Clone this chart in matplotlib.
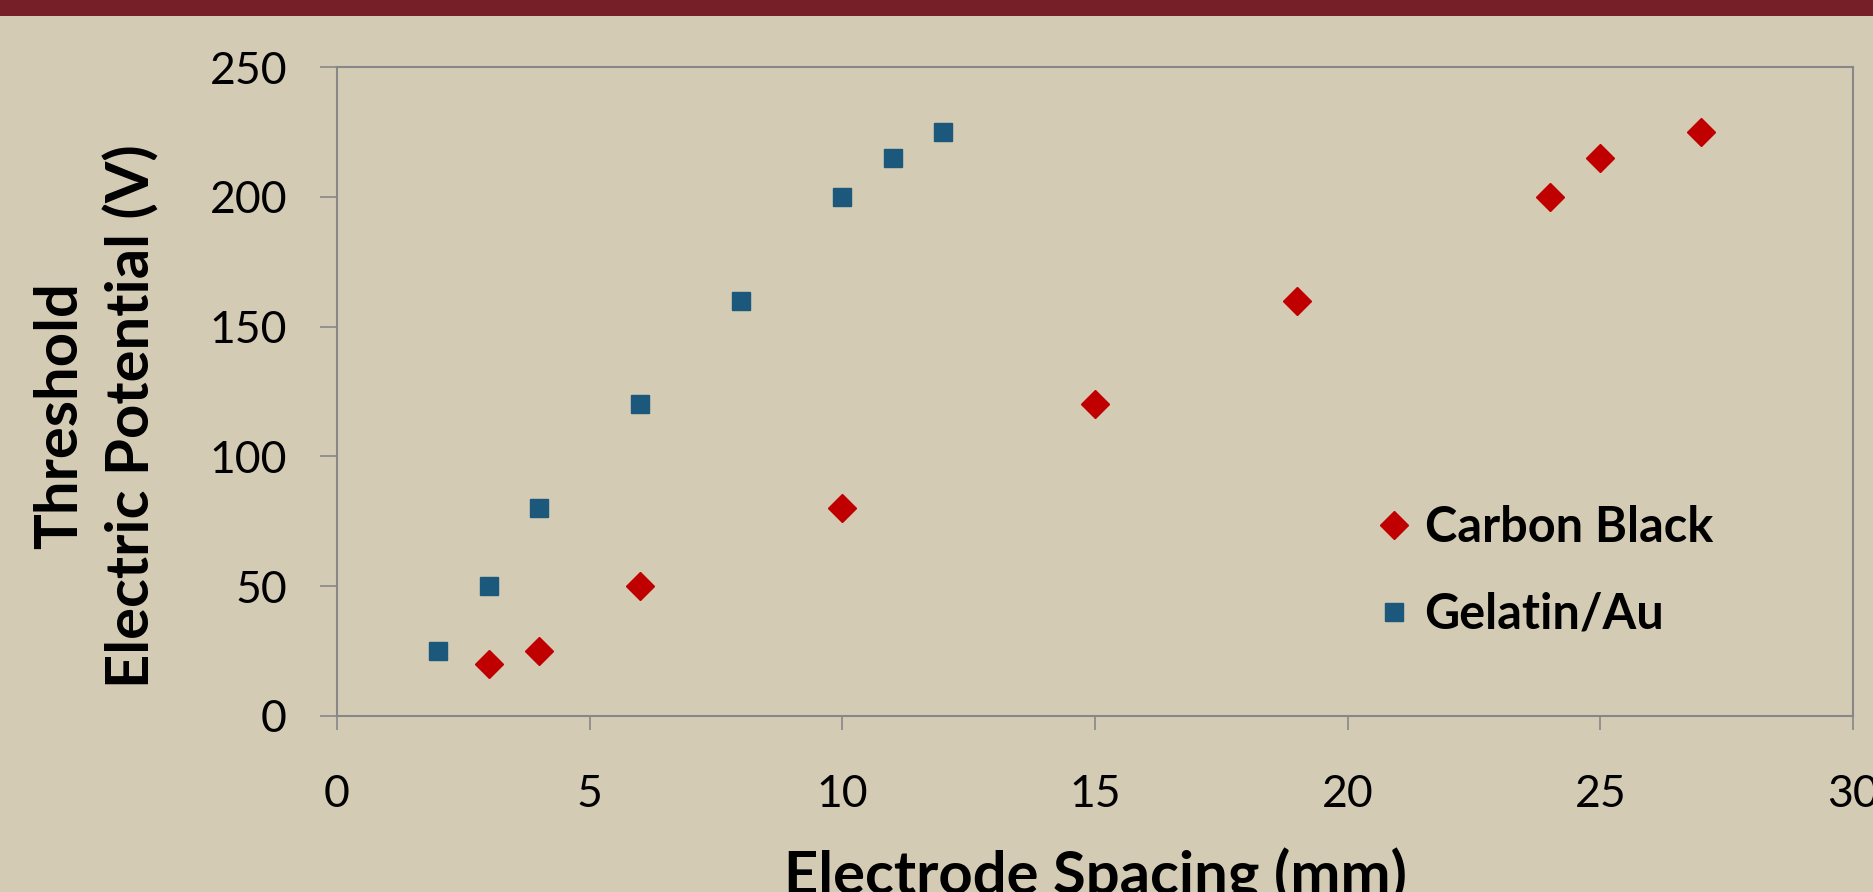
import matplotlib
matplotlib.use('Agg')
import matplotlib.pyplot as plt
from matplotlib.patches import Rectangle

# data
carbon_x = [3, 4, 6, 10, 15, 19, 24, 25, 27]
carbon_y = [20, 25, 50, 80, 120, 160, 200, 215, 225]
gelatin_x = [2, 3, 4, 6, 8, 10, 11, 12]
gelatin_y = [25, 50, 80, 120, 160, 200, 215, 225]

x_ticks = [0, 5, 10, 15, 20, 25, 30]
y_ticks = [0, 50, 100, 150, 200, 250]

bg = '#D4CBB5'
banner = '#761F29'
red = '#C00000'
blue = '#1B587C'
gray = '#878787'

plt.rcParams['font.family'] = ['Lato', 'DejaVu Sans']

W, H = 1873, 892
fig = plt.figure(figsize=(W / 100, H / 100), dpi=100, facecolor=bg)
ax = fig.add_axes([337 / W, 1 - 716 / H, (1853 - 337) / W, (716 - 67) / H])
ax.set_facecolor(bg)

ax.plot(carbon_x, carbon_y, linestyle='none', marker='D', markersize=14,
        color=red, label='Carbon Black')
ax.plot(gelatin_x, gelatin_y, linestyle='none', marker='s', markersize=13,
        color=blue, label='Gelatin/Au')

ax.set_xlim(0, 30)
ax.set_ylim(0, 250)
ax.set_xticks(x_ticks)
ax.set_yticks(y_ticks)

for s in ax.spines.values():
    s.set_color(gray)
    s.set_linewidth(1.5)

ax.tick_params(axis='y', direction='out', length=12, width=1.2, color=gray,
               labelsize=32, pad=24)
ax.tick_params(axis='x', direction='out', length=10, width=1.2, color=gray,
               labelsize=32, pad=32)

ax.legend(loc='center left', bbox_to_anchor=(1376 / W, 1 - 571 / H),
          bbox_transform=fig.transFigure, frameon=False, borderpad=0,
          borderaxespad=0, handlelength=0.75, handletextpad=0.25,
          labelspacing=0.85, prop={'weight': 'bold', 'size': 35})

fig.text(96 / W, 1 - 416 / H, 'Threshold\nElectric Potential (V)', rotation=90,
         ha='center', va='center', multialignment='center',
         fontsize=43, fontweight='bold', linespacing=1.36)
# the reference crops this label at the bottom edge
fig.text(1095 / W, -2 / H, 'Electrode Spacing (mm)', ha='center',
         va='baseline', fontsize=43, fontweight='bold')

# dark red strip along the top edge
fig.patches.append(Rectangle((0, 1 - 16 / H), 1, 16 / H, transform=fig.transFigure,
                             facecolor=banner, edgecolor='none', zorder=5))

fig.savefig('out.png', dpi=100, facecolor=bg)
